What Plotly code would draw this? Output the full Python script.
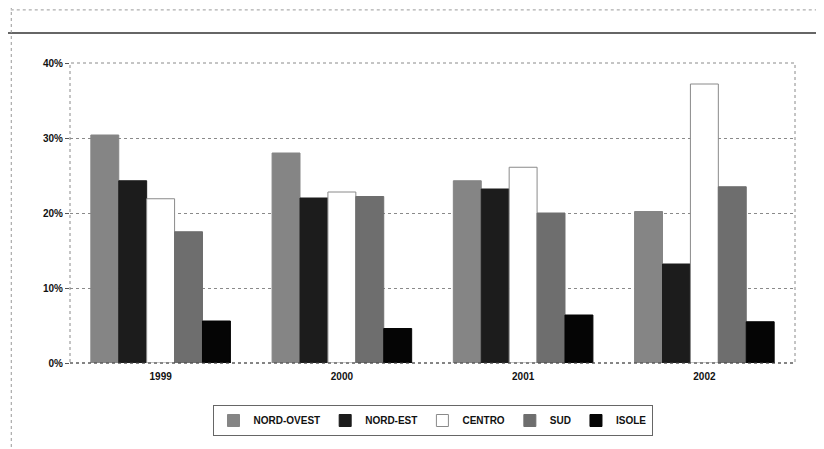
import plotly.graph_objects as go

years = ["1999", "2000", "2001", "2002"]
nord_ovest = [30.4, 28.0, 24.3, 20.2]
nord_est = [24.3, 22.0, 23.2, 13.2]
centro = [21.9, 22.8, 26.1, 37.2]
sud = [17.5, 22.2, 20.0, 23.5]
isole = [5.6, 4.6, 6.4, 5.5]
y_ticks = [0, 10, 20, 30, 40]
y_tick_labels = ["0%", "10%", "20%", "30%", "40%"]

series = [
    ("NORD-OVEST", nord_ovest, "#858585", "#858585"),
    ("NORD-EST", nord_est, "#1c1c1c", "#1c1c1c"),
    ("CENTRO", centro, "#ffffff", "#8a8a8a"),
    ("SUD", sud, "#6e6e6e", "#6e6e6e"),
    ("ISOLE", isole, "#050505", "#050505"),
]

fig = go.Figure()
for name, vals, fill, line in series:
    fig.add_trace(go.Bar(
        name=name, x=years, y=vals,
        marker=dict(color=fill, line=dict(color=line, width=1)),
    ))

font_family = "Liberation Sans, Arial, sans-serif"
fig.update_layout(
    width=816, height=441,
    margin=dict(l=62, r=29, t=55, b=86, autoexpand=False),
    paper_bgcolor="white", plot_bgcolor="white",
    barmode="group", bargap=0.23, bargroupgap=0,
    font=dict(family=font_family, size=10, color="#111111"),
    xaxis=dict(
        showgrid=False, showline=False, ticks="", automargin=False,
        tickfont=dict(family=font_family, size=10, color="#111111", weight="bold"),
        ticklabelstandoff=6,
    ),
    yaxis=dict(
        range=[0, 40], tickvals=y_ticks, ticktext=y_tick_labels, automargin=False,
        showgrid=True, gridcolor="#8a8a8a", griddash="dot", gridwidth=1,
        zeroline=False, showline=False, ticks="outside", ticklen=4,
        tickcolor="#555555",
        tickfont=dict(family=font_family, size=10, color="#111111", weight="bold"),
    ),
    legend=dict(
        orientation="h", x=0.5, xanchor="center", y=-0.14, yanchor="top",
        bordercolor="#666666", borderwidth=1, bgcolor="white",
        font=dict(family=font_family, size=10, color="#111111", weight="bold"),
        itemwidth=30, tracegroupgap=0,
    ),
    showlegend=True,
    shapes=[
        dict(type="rect", xref="paper", yref="paper", x0=0, x1=1, y0=0, y1=1,
             line=dict(color="#8a8a8a", width=1, dash="dot"), layer="below"),
        dict(type="line", xref="paper", yref="paper", x0=0, x1=1, y0=0, y1=0,
             line=dict(color="#444444", width=1, dash="dot")),
        dict(type="line", xref="paper", yref="paper", x0=-0.09, x1=1.05, y0=1.1, y1=1.1,
             line=dict(color="#333333", width=1.5)),
        dict(type="line", xref="paper", yref="paper", x0=-0.09, x1=1.05, y0=1.177, y1=1.177,
             line=dict(color="#999999", width=1, dash="dot")),
        dict(type="line", xref="paper", yref="paper", x0=-0.081, x1=-0.081, y0=-0.3, y1=1.2,
             line=dict(color="#999999", width=1, dash="dot")),
    ],
)

fig.write_html("out.html")
